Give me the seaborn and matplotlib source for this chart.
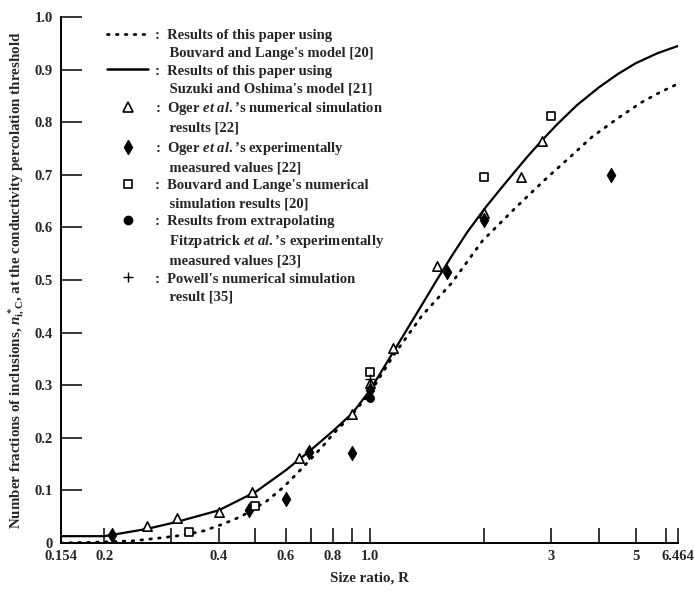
import numpy as np
import pandas as pd
import matplotlib
matplotlib.use('Agg')
import matplotlib.pyplot as plt
from matplotlib.lines import Line2D
import seaborn as sns

# curves (size ratio R, number fraction)
bl_model_R = [0.154, 0.2, 0.237, 0.284, 0.323, 0.365, 0.411, 0.46, 0.536, 0.59, 0.645, 0.7,
              0.76, 0.8, 0.9, 1.0, 1.15, 1.37, 1.64, 1.98, 2.43, 2.92, 3.4, 3.84, 4.5, 5.16, 5.8, 6.464]
bl_model_n = [0.0, 0.002, 0.004, 0.01, 0.015, 0.023, 0.036, 0.051, 0.08, 0.105, 0.133, 0.16,
              0.188, 0.207, 0.245, 0.285, 0.355, 0.432, 0.494, 0.575, 0.639, 0.694, 0.737, 0.772,
              0.808, 0.837, 0.857, 0.873]

so_model_R = [0.154, 0.2, 0.22, 0.26, 0.31, 0.4, 0.5, 0.6, 0.7, 0.8, 0.9, 1.0, 1.15, 1.35,
              1.5, 1.65, 1.8, 2.0, 2.2, 2.4, 2.6, 2.84, 3.1, 3.5, 4.0, 4.5, 5.0, 5.7, 6.464]
so_model_n = [0.013, 0.013, 0.018, 0.027, 0.04, 0.062, 0.097, 0.138, 0.177, 0.213, 0.247, 0.29,
              0.362, 0.445, 0.5, 0.548, 0.59, 0.635, 0.672, 0.705, 0.735, 0.766, 0.795, 0.832,
              0.866, 0.892, 0.912, 0.931, 0.945]

# data points
oger_sim_R = [0.26, 0.31, 0.4, 0.49, 0.65, 0.9, 1.0, 1.15, 1.5, 2.0, 2.5, 2.84]
oger_sim_n = [0.032, 0.047, 0.059, 0.097, 0.161, 0.245, 0.304, 0.371, 0.527, 0.627, 0.696, 0.764]

oger_exp_R = [0.21, 0.48, 0.6, 0.69, 0.9, 1.0, 1.6, 2.0, 4.3]
oger_exp_n = [0.015, 0.063, 0.084, 0.173, 0.171, 0.291, 0.515, 0.614, 0.70]

bl_sim_R = [0.334, 0.5, 1.0, 2.0, 3.0]
bl_sim_n = [0.021, 0.07, 0.325, 0.696, 0.812]

fitz_R = [1.0]
fitz_n = [0.276]

powell_R = [1.0]
powell_n = [0.312]

xtick_vals = [0.154, 0.2, 0.3, 0.4, 0.5, 0.6, 0.7, 0.8, 0.9, 1.0, 2, 3, 4, 5, 6, 6.464]
xtick_labels = ['0.154', '0.2', '', '0.4', '', '0.6', '', '0.8', '', '1.0', '', '3', '', '5', '', '6.464']
ytick_vals = [0, 0.1, 0.2, 0.3, 0.4, 0.5, 0.6, 0.7, 0.8, 0.9, 1.0]
ytick_labels = ['0', '0.1', '0.2', '0.3', '0.4', '0.5', '0.6', '0.7', '0.8', '0.9', '1.0']

sns.set_style('ticks')
plt.rcParams['font.family'] = ['Liberation Serif', 'DejaVu Serif']
plt.rcParams['font.weight'] = 'bold'
plt.rcParams['mathtext.fontset'] = 'custom'
plt.rcParams['mathtext.rm'] = 'Liberation Serif:bold'
plt.rcParams['mathtext.it'] = 'Liberation Serif:italic:bold'
plt.rcParams['mathtext.bf'] = 'Liberation Serif:bold'

fig = plt.figure(figsize=(6.94, 5.93), dpi=100)
ax = fig.add_axes([0.0879, 0.0843, 0.889, 0.887])

df_bl = pd.DataFrame({'R': bl_model_R, 'n': bl_model_n})
df_so = pd.DataFrame({'R': so_model_R, 'n': so_model_n})
sns.lineplot(data=df_bl, x='R', y='n', ax=ax, color='black', lw=2.0,
             linestyle=(0, (0.6, 2.6)), dash_capstyle='round', sort=False)
sns.lineplot(data=df_so, x='R', y='n', ax=ax, color='black', lw=1.6, sort=False)

sns.scatterplot(x=oger_sim_R, y=oger_sim_n, ax=ax, marker='^', s=45,
                facecolor='white', edgecolor='black', linewidth=1.2, zorder=4)
sns.scatterplot(x=oger_exp_R, y=oger_exp_n, ax=ax, marker='d', s=55,
                color='black', edgecolor='black', zorder=4)
sns.scatterplot(x=bl_sim_R, y=bl_sim_n, ax=ax, marker='s', s=40,
                facecolor='white', edgecolor='black', linewidth=1.2, zorder=4)
sns.scatterplot(x=fitz_R, y=fitz_n, ax=ax, marker='o', s=35,
                color='black', edgecolor='black', zorder=4)
sns.scatterplot(x=powell_R, y=powell_n, ax=ax, marker='+', s=45,
                color='black', linewidth=1.0, zorder=4)

ax.set_xscale('log')
ax.set_xlim(0.154, 6.464)
ax.set_ylim(0, 1.0)
ax.minorticks_off()
ax.set_xticks(xtick_vals)
ax.set_xticklabels(xtick_labels)
ax.set_yticks(ytick_vals)
ax.set_yticklabels(ytick_labels)
ax.tick_params(axis='x', direction='in', length=11, width=1.3, labelsize=10.5, pad=5)
ax.tick_params(axis='y', direction='in', length=15, width=1.3, labelsize=10.5, pad=6)
for lab in ax.get_xticklabels() + ax.get_yticklabels():
    lab.set_fontweight('bold')
sns.despine(ax=ax)
for sp in ['left', 'bottom']:
    ax.spines[sp].set_linewidth(1.4)
    ax.spines[sp].set_color('black')

ax.set_xlabel('Size ratio, R', fontsize=10.8, fontweight='bold', labelpad=6)
ax.set_ylabel(r'Number fractions of inclusions, $n^*_{\mathrm{i,C}}$, at the conductivity percolation threshold',
              fontsize=10.8, fontweight='bold', labelpad=5)

blank = Line2D([], [], linestyle='none')
handles = [
    Line2D([], [], color='black', lw=2.0, linestyle=(0, (0.6, 2.6)), dash_capstyle='round'), blank,
    Line2D([], [], color='black', lw=1.8), blank,
    Line2D([], [], linestyle='none', marker='^', ms=6.5, mfc='white', mec='black', mew=1.2), blank,
    Line2D([], [], linestyle='none', marker='d', ms=7, color='black'), blank,
    Line2D([], [], linestyle='none', marker='s', ms=6, mfc='white', mec='black', mew=1.2), blank,
    Line2D([], [], linestyle='none', marker='o', ms=6, color='black'), blank, blank,
    Line2D([], [], linestyle='none', marker='+', ms=7, color='black', mew=1.0), blank,
]
labels = [
    ':  Results of this paper using', "    Bouvard and Lange's model [20]",
    ':  Results of this paper using', "    Suzuki and Oshima's model [21]",
    r":  Oger $\mathit{et\ al.}\mathrm{’s}$ numerical simulation", '    results [22]',
    r":  Oger $\mathit{et\ al.}\mathrm{’s}$ experimentally", '    measured values [22]',
    ":  Bouvard and Lange's numerical", '    simulation results [20]',
    ':  Results from extrapolating', r"    Fitzpatrick $\mathit{et\ al.}\mathrm{’s}$ experimentally",
    '    measured values [23]',
    ":  Powell's numerical simulation", '    result [35]',
]
ax.legend(handles, labels, loc='upper left', bbox_to_anchor=(0.075, 0.978),
          frameon=False, handlelength=2.8, handletextpad=0.5, labelspacing=0.32,
          borderpad=0, borderaxespad=0,
          prop={'family': 'Liberation Serif', 'weight': 'bold', 'size': 10.5})

fig.savefig('out.png', dpi=100)
